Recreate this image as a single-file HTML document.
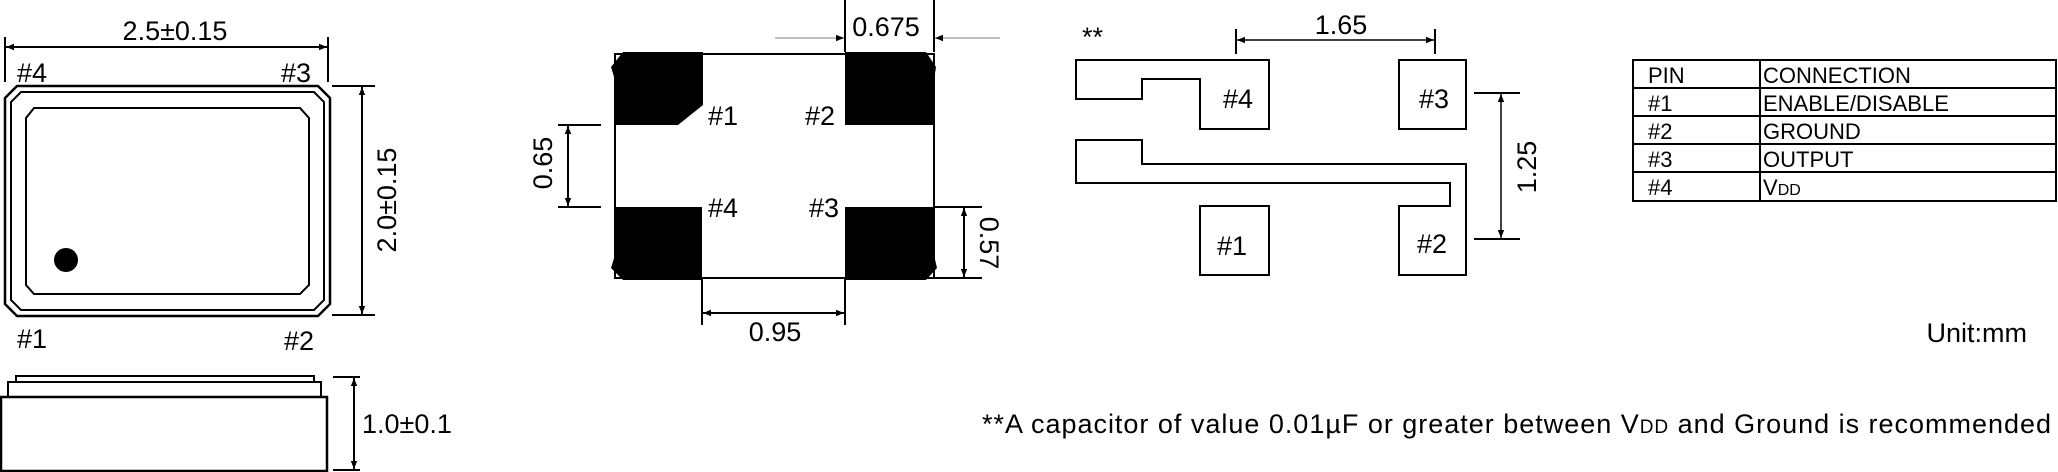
<!DOCTYPE html>
<html><head><meta charset="utf-8"><style>
html,body{margin:0;padding:0;background:#fff;}
svg{display:block}
text{font-family:"Liberation Sans",sans-serif;fill:#000}
</style></head><body>
<svg width="2058" height="472" viewBox="0 0 2058 472" xmlns="http://www.w3.org/2000/svg">
<defs>
<marker id="a" viewBox="0 0 10 10" refX="10" refY="5" markerWidth="8" markerHeight="8" orient="auto-start-reverse" markerUnits="userSpaceOnUse"><path d="M0,1 L10,5 L0,9 z" fill="#000"/></marker>
</defs>
<g stroke="#000" fill="none" stroke-width="2">
<line x1="5" y1="37" x2="5" y2="82"/><line x1="328" y1="37" x2="328" y2="82"/>
<line x1="6" y1="47" x2="327" y2="47" marker-start="url(#a)" marker-end="url(#a)"/>
<polygon points="17,86 318,86 330,98 330,304 318,316 17,316 5,304 5,98" stroke-width="2.5"/>
<polygon points="21,92 314,92 324,102 324,300 314,310 21,310 11,300 11,102"/>
<polygon points="34,108 300,108 309,118 309,285 300,294 34,294 26,285 26,118"/>
<line x1="332" y1="86" x2="375" y2="86"/><line x1="332" y1="315" x2="375" y2="315"/>
<line x1="362" y1="87" x2="362" y2="314" marker-start="url(#a)" marker-end="url(#a)"/>
<rect x="16" y="376" width="298" height="6"/>
<rect x="8" y="382" width="313" height="15"/>
<rect x="1" y="397" width="326" height="74" stroke-width="2.5"/>
<line x1="333" y1="377" x2="360" y2="377"/><line x1="333" y1="470" x2="360" y2="470"/>
<line x1="354" y1="378" x2="354" y2="469" marker-start="url(#a)" marker-end="url(#a)"/>
<rect x="615" y="54" width="319" height="224"/>
<line x1="845" y1="0" x2="845" y2="52"/><line x1="934" y1="0" x2="934" y2="52"/>
<line x1="775" y1="38" x2="844" y2="38" stroke="#aaa" stroke-width="1.5" marker-end="url(#a)"/>
<line x1="1000" y1="38" x2="935" y2="38" stroke="#aaa" stroke-width="1.5" marker-end="url(#a)"/>
<line x1="558" y1="125" x2="601" y2="125"/><line x1="558" y1="207" x2="601" y2="207"/>
<line x1="568" y1="126" x2="568" y2="206" marker-start="url(#a)" marker-end="url(#a)"/>
<line x1="935" y1="207" x2="982" y2="207"/><line x1="935" y1="278" x2="982" y2="278"/>
<line x1="964" y1="208" x2="964" y2="277" marker-start="url(#a)" marker-end="url(#a)"/>
<line x1="702" y1="278" x2="702" y2="325"/><line x1="845" y1="278" x2="845" y2="325"/>
<line x1="703" y1="313" x2="844" y2="313" marker-start="url(#a)" marker-end="url(#a)"/>
<polygon points="1076,60 1269,60 1269,129 1200,129 1200,79 1142,79 1142,99 1076,99"/>
<rect x="1399" y="60" width="67" height="69"/>
<polygon points="1076,140 1142,140 1142,164 1466,164 1466,275 1399,275 1399,206 1450,206 1450,183 1076,183"/>
<rect x="1200" y="206" width="69" height="69"/>
<line x1="1236" y1="29" x2="1236" y2="54"/><line x1="1435" y1="29" x2="1435" y2="54"/>
<line x1="1237" y1="40" x2="1434" y2="40" stroke-width="1.5" marker-start="url(#a)" marker-end="url(#a)"/>
<line x1="1474" y1="93" x2="1520" y2="93"/><line x1="1474" y1="239" x2="1520" y2="239"/>
<line x1="1501" y1="94" x2="1501" y2="238" stroke-width="1.5" marker-start="url(#a)" marker-end="url(#a)"/>
<rect x="1633" y="60" width="423" height="141"/>
<line x1="1633" y1="88" x2="2056" y2="88"/><line x1="1633" y1="116" x2="2056" y2="116"/>
<line x1="1633" y1="144" x2="2056" y2="144"/><line x1="1633" y1="172" x2="2056" y2="172"/>
<line x1="1760" y1="60" x2="1760" y2="201"/>
</g>
<circle cx="66" cy="260" r="12" fill="#000"/>
<g fill="#000">
<polygon points="623,52 703,52 703,105 678,125 615,125 615,80 611,67"/>
<polygon points="845,52 926,52 936,67 934,80 934,125 845,125"/>
<polygon points="615,207 702,207 702,280 623,280 611,268 615,255"/>
<polygon points="845,207 934,207 934,255 937,268 926,280 845,280"/>
</g>
<g font-size="27">
<text x="175" y="40" text-anchor="middle">2.5±0.15</text>
<text x="17" y="82">#4</text><text x="281" y="82">#3</text>
<text x="17" y="348">#1</text><text x="284" y="350">#2</text>
<text transform="translate(396,200) rotate(-90)" text-anchor="middle">2.0±0.15</text>
<text x="362" y="433">1.0±0.1</text>
<text x="886" y="36" text-anchor="middle">0.675</text>
<text x="708" y="125">#1</text><text x="805" y="125">#2</text>
<text x="708" y="217">#4</text><text x="809" y="217">#3</text>
<text transform="translate(552,163) rotate(-90)" text-anchor="middle">0.65</text>
<text transform="translate(980,243) rotate(90)" text-anchor="middle">0.57</text>
<text x="775" y="341" text-anchor="middle">0.95</text>
<text x="1082" y="46">**</text>
<text x="1341" y="34" text-anchor="middle">1.65</text>
<text x="1238" y="108" text-anchor="middle">#4</text><text x="1434" y="108" text-anchor="middle">#3</text>
<text x="1232" y="255" text-anchor="middle">#1</text><text x="1432" y="253" text-anchor="middle">#2</text>
<text transform="translate(1536,167) rotate(-90)" text-anchor="middle">1.25</text>
<text x="2027" y="342" text-anchor="end">Unit:mm</text>
<text x="982" y="433" textLength="1069">**A capacitor of value 0.01µF or greater between V<tspan font-size="19">DD</tspan> and Ground is recommended</text>
</g>
<g font-size="22">
<text x="1648" y="83">PIN</text><text x="1763" y="83">CONNECTION</text>
<text x="1648" y="111">#1</text><text x="1763" y="111">ENABLE/DISABLE</text>
<text x="1648" y="139">#2</text><text x="1763" y="139">GROUND</text>
<text x="1648" y="167">#3</text><text x="1763" y="167">OUTPUT</text>
<text x="1648" y="195">#4</text><text x="1763" y="195">V<tspan font-size="16">DD</tspan></text>
</g>
</svg>
</body></html>
